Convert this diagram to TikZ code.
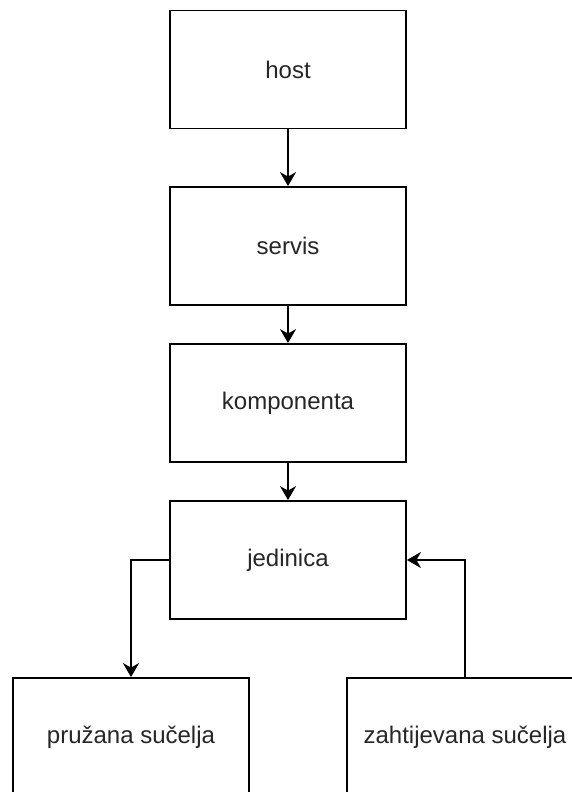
\documentclass[tikz,border=0pt]{standalone}
\usepackage{fontspec}
\setmainfont{Liberation Sans}
\usetikzlibrary{arrows.meta}
\begin{document}
\begin{tikzpicture}[x=1pt,y=-1pt,
  box/.style={draw=black,line width=1.8pt,fill=white,minimum width=236pt,minimum height=118pt,inner sep=0pt,
    font=\fontsize{24}{28}\selectfont,text=black!85},
  conn/.style={draw=black,line width=1.8pt,-{Stealth[length=14pt,width=16pt,inset=4.5pt]}}]
\useasboundingbox (0,0) rectangle (572,792);
\clip (0,0) rectangle (572,792);
\node[box] (host) at (288,69.5) {host};
\node[box] (servis) at (288,246) {servis};
\node[box] (komp) at (288,403) {komponenta};
\node[box] (jed) at (288,560) {jedinica};
\node[box] (pruz) at (131,737) {pružana sučelja};
\node[box] (zaht) at (465,737) {zahtijevana sučelja};
\draw[conn] (host) -- (servis);
\draw[conn] (servis) -- (komp);
\draw[conn] (komp) -- (jed);
\draw[conn] (jed.west) -| (pruz.north);
\draw[conn] (zaht.north) |- (jed.east);
\end{tikzpicture}
\end{document}
